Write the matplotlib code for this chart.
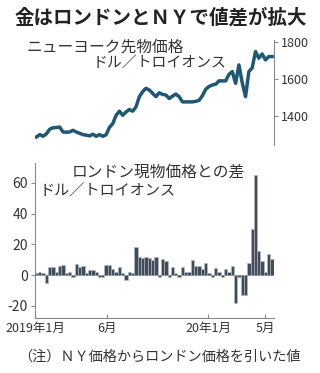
import numpy as np
import pandas as pd
import matplotlib
matplotlib.use("Agg")
import matplotlib.pyplot as plt
import matplotlib.dates as mdates

plt.rcParams['font.family'] = ['Noto Sans CJK JP', 'DejaVu Sans']

dates = pd.date_range("2019-01-04", periods=72, freq="7D")

ny_price = [1288, 1301, 1292, 1305, 1330, 1338, 1339, 1342, 1315, 1314,
            1315, 1324, 1315, 1308, 1301, 1298, 1294, 1303, 1292, 1301,
            1292, 1300, 1340, 1360, 1405, 1427, 1405, 1423, 1436, 1427,
            1450, 1505, 1532, 1550, 1541, 1523, 1505, 1526, 1517, 1514,
            1495, 1508, 1519, 1505, 1477, 1477, 1477, 1477, 1480, 1485,
            1510, 1545, 1560, 1568, 1572, 1590, 1590, 1590, 1625, 1640,
            1577, 1676, 1580, 1505, 1640, 1660, 1748, 1712, 1735, 1703,
            1721, 1721]

spread = [1, 2, 1, -5, 5, 5, 2, 6, 6.5, 1.5,
          2, -1, 7, 5, 6, 1, 3, 3, 2, -1,
          -1, 6.5, 6.5, 4, 2, 5, 1.5, -3, 2, 1.5,
          18, 12, 11, 12, 11, 10, 11.5, -1, 10.5, 9,
          -1, 5, 1.5, -1.5, 5, 2, 2, 9.5, 6, 6,
          4, 8, 1.5, -1.5, 4.5, 2, -1, 4, 2, 6,
          -18, -1, -13, -13, 8, 30, 65, 15.5, 9, 2,
          14, 10.5]

top_ticks = [1400, 1600, 1800]
bot_ticks = [-20, 0, 20, 40, 60]
x_tick_dates = ["2019-01-01", "2019-06-01", "2020-01-01", "2020-05-01"]
x_tick_labels = ["2019年1月", "6月", "20年1月", "5月"]

title = "金はロンドンとＮＹで値差が拡大"
top_label1 = "ニューヨーク先物価格"
top_label2 = "ドル／トロイオンス"
bot_label1 = "ロンドン現物価格との差"
bot_label2 = "ドル／トロイオンス"
note = "（注）ＮＹ価格からロンドン価格を引いた値"

W, H = 320, 373
fig = plt.figure(figsize=(W / 100, H / 100), dpi=100)
fig.patch.set_facecolor("white")

xmin = pd.Timestamp("2019-01-01")
xmax = pd.Timestamp("2020-05-19")
txt = "#333333"
spine_c = "#888888"

# top axes
ax1 = fig.add_axes([35 / W, 1 - 145 / H, 239 / W, 105 / H])
ax1.plot(dates, ny_price, color="#1e5872", lw=2.5, solid_joinstyle="round")
ax1.set_xlim(xmin, xmax)
ax1.set_ylim(1245, 1810)
ax1.set_yticks(top_ticks)
ax1.yaxis.tick_right()
for s in ["top", "bottom", "left"]:
    ax1.spines[s].set_visible(False)
ax1.spines["right"].set_color(spine_c)
ax1.set_xticks([])
ax1.tick_params(axis="y", direction="out", length=3, color=spine_c,
                labelsize=9, labelcolor=txt, pad=2)

# bottom axes
ax2 = fig.add_axes([35 / W, 1 - 318 / H, 239 / W, 155 / H])
ax2.bar(dates, spread, width=7, color="#414c5b", edgecolor="#b8bec6",
        linewidth=0.4, align="center")
ax2.axhline(0, color="#555555", lw=0.6, zorder=0)
ax2.set_xlim(xmin, xmax)
ax2.set_ylim(-28, 73)
ax2.set_yticks(bot_ticks)
ax2.set_yticklabels([str(v) for v in bot_ticks])
for s in ["top", "right"]:
    ax2.spines[s].set_visible(False)
ax2.spines["left"].set_color(spine_c)
ax2.spines["bottom"].set_color(spine_c)
ax2.set_xticks([mdates.date2num(pd.Timestamp(d)) for d in x_tick_dates])
ax2.set_xticklabels(x_tick_labels)
ax2.tick_params(axis="x", direction="in", length=3, color=spine_c,
                labelsize=9, labelcolor=txt, pad=3)
ax2.tick_params(axis="y", direction="out", length=3, color=spine_c,
                labelsize=10, labelcolor=txt, pad=2)

# texts
fig.text(15 / W, 1 - 18 / H, title, fontsize=14, fontweight="bold",
         color="#222222", va="center", ha="left")
fig.text(27 / W, 1 - 47 / H, top_label1, fontsize=11.3, color=txt,
         va="center", ha="left")
fig.text(93 / W, 1 - 63 / H, top_label2, fontsize=10.7, color=txt,
         va="center", ha="left")
fig.text(72 / W, 1 - 172 / H, bot_label1, fontsize=11.3, color=txt,
         va="center", ha="left")
fig.text(40 / W, 1 - 191 / H, bot_label2, fontsize=10.9, color=txt,
         va="center", ha="left")
fig.text(18 / W, 1 - 357 / H, note, fontsize=10.2, color=txt,
         va="center", ha="left")

fig.savefig("out.png", dpi=100, facecolor="white")
